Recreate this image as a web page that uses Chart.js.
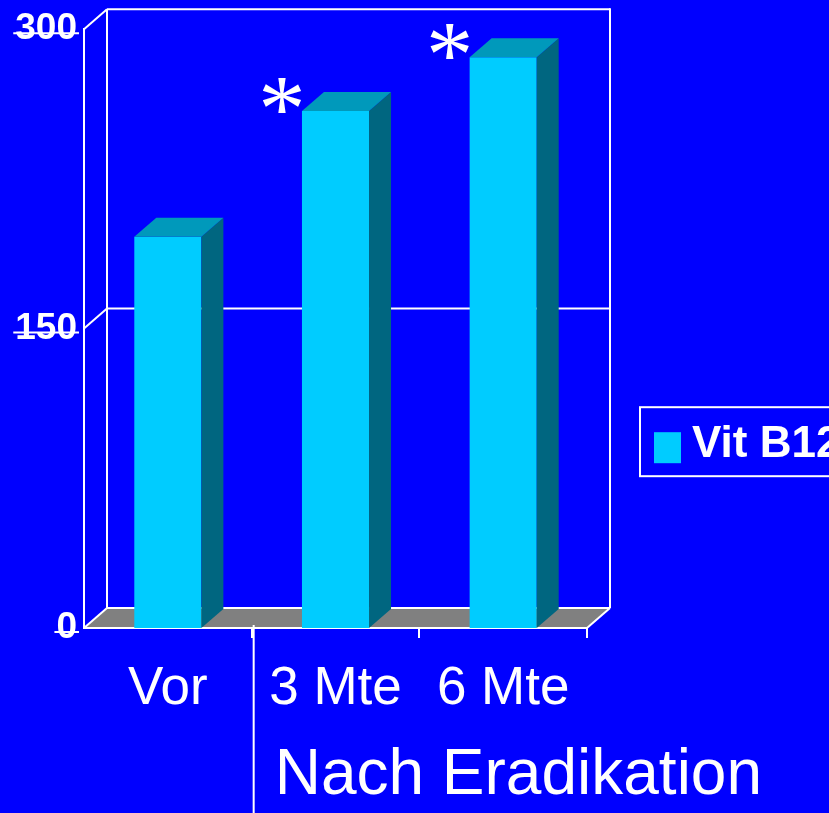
<!DOCTYPE html>
<html><head><meta charset="utf-8">
<script src="https://cdn.jsdelivr.net/npm/chart.js@4"></script>
<style>html,body{margin:0;padding:0;background:#0000ff;overflow:hidden}canvas{display:block}</style>
</head><body>
<canvas id="c" width="829" height="813"></canvas>
<script>
const categories = ["Vor", "3 Mte", "6 Mte"];
const vitB12 = [196, 259, 286];
const significance = ["", "*", "*"];
const yTicks = [0, 150, 300];
const seriesLabel = "Vit B12";
const groupLabel = "Nach Eradikation";

const FONT = "'Liberation Sans', Arial, sans-serif";
const BG = '#0000ff';
const FRONT = '#00ccff', TOP = '#0099bb', SIDE = '#006680', FLOOR = '#808080';
const WALL = {dx: 23, dy: -20};
const DEPTH = {dx: 22, dy: -19};
const YFONT = { family: FONT, size: 37, weight: 'bold' };
const YPAD = 7;

function seg(ctx, x1, y1, x2, y2) { ctx.beginPath(); ctx.moveTo(x1, y1); ctx.lineTo(x2, y2); ctx.stroke(); }
function poly(ctx, pts) { ctx.beginPath(); ctx.moveTo(pts[0][0], pts[0][1]); for (let i = 1; i < pts.length; i++) ctx.lineTo(pts[i][0], pts[i][1]); ctx.closePath(); ctx.fill(); }

const frame3d = {
  id: 'frame3d',
  beforeDraw(chart) {
    const ctx = chart.ctx, a = chart.chartArea, ys = chart.scales.y;
    const dx = WALL.dx, dy = WALL.dy;
    ctx.save();
    ctx.fillStyle = BG; ctx.fillRect(0, 0, chart.width, chart.height);
    const y0 = ys.getPixelForValue(0), yTop = ys.getPixelForValue(yTicks[yTicks.length - 1]);
    ctx.fillStyle = FLOOR;
    poly(ctx, [[a.left, y0], [a.right, y0], [a.right + dx, y0 + dy], [a.left + dx, y0 + dy]]);
    ctx.strokeStyle = '#ffffff'; ctx.lineWidth = 2;
    yTicks.forEach(v => {
      const py = ys.getPixelForValue(v);
      seg(ctx, a.left, py, a.left + dx, py + dy);
      seg(ctx, a.left + dx, py + dy, a.right + dx, py + dy);
    });
    seg(ctx, a.left + dx, yTop + dy, a.left + dx, y0 + dy);
    seg(ctx, a.right + dx, yTop + dy - 1, a.right + dx, y0 + dy);
    seg(ctx, a.right, y0, a.right + dx, y0 + dy);
    ctx.restore();
  },
  afterDatasetsDraw(chart) {
    const ctx = chart.ctx, dx = DEPTH.dx, dy = DEPTH.dy;
    const meta = chart.getDatasetMeta(0);
    ctx.save();
    meta.data.forEach(bar => {
      const p = bar.getProps(['x', 'y', 'base', 'width'], true);
      const l = p.x - p.width / 2, r = p.x + p.width / 2;
      ctx.fillStyle = SIDE;
      poly(ctx, [[r, p.y], [r + dx, p.y + dy], [r + dx, p.base + dy], [r, p.base]]);
      ctx.fillStyle = TOP;
      poly(ctx, [[l, p.y], [l + dx, p.y + dy], [r + dx, p.y + dy], [r, p.y]]);
    });
    ctx.restore();
  },
  afterDraw(chart) {
    const ctx = chart.ctx, a = chart.chartArea, ys = chart.scales.y, xs = chart.scales.x;
    ctx.save();
    ctx.strokeStyle = '#ffffff'; ctx.lineWidth = 2;
    // strike-through tick marks across the value labels
    ctx.font = 'bold ' + YFONT.size + 'px ' + FONT;
    yTicks.forEach(v => {
      const py = ys.getPixelForValue(v) + 4;
      const w = ctx.measureText(String(v)).width;
      const right = a.left - YPAD;
      seg(ctx, right - w - 2, py, a.left - 5, py);
    });
    // separator between "Vor" and the after-eradication group
    const sepX = (xs.getPixelForValue(0) + xs.getPixelForValue(1)) / 2 + 2;
    seg(ctx, sepX, a.bottom - 3, sepX, chart.height);
    // group label
    ctx.fillStyle = '#ffffff';
    ctx.font = '64px ' + FONT;
    ctx.textAlign = 'left'; ctx.textBaseline = 'alphabetic';
    ctx.fillText(groupLabel, sepX + 21, a.bottom + 166);
    // significance asterisks
    const meta = chart.getDatasetMeta(0);
    ctx.font = '100px "Liberation Serif", serif';
    const m = ctx.measureText('*');
    const h100 = m.actualBoundingBoxAscent + m.actualBoundingBoxDescent;
    const fs = 35 * 100 / h100;
    ctx.font = fs + 'px "Liberation Serif", serif';
    const m2 = ctx.measureText('*');
    ctx.textAlign = 'center';
    meta.data.forEach((bar, i) => {
      if (!significance[i]) return;
      const p = bar.getProps(['x', 'y', 'width'], true);
      const cx = p.x - p.width / 2 - 20, cy = p.y - 15;
      const base = cy + (m2.actualBoundingBoxAscent - m2.actualBoundingBoxDescent) / 2;
      ctx.fillText(significance[i], cx, base);
    });
    // legend
    const ds = chart.data.datasets[0];
    const lx = a.right + 53, ly = a.top + 378;
    ctx.strokeStyle = '#ffffff'; ctx.lineWidth = 2;
    ctx.strokeRect(lx, ly, 260, 69);
    ctx.fillStyle = ds.backgroundColor;
    ctx.fillRect(lx + 14, ly + 25, 27, 31);
    ctx.fillStyle = '#ffffff';
    ctx.font = 'bold 44px ' + FONT;
    ctx.textAlign = 'left'; ctx.textBaseline = 'middle';
    ctx.fillText(ds.label, lx + 52, ly + 38);
    ctx.restore();
  }
};

new Chart(document.getElementById('c'), {
  type: 'bar',
  data: {
    labels: categories,
    datasets: [{
      label: seriesLabel,
      data: vitB12,
      backgroundColor: FRONT,
      borderWidth: 0,
      barPercentage: 0.8,
      categoryPercentage: 0.5
    }]
  },
  options: {
    responsive: false,
    animation: false,
    devicePixelRatio: 1,
    layout: { padding: { top: 28, right: 242, left: 0, bottom: 0 } },
    plugins: { legend: { display: false }, tooltip: { enabled: false } },
    scales: {
      x: {
        afterFit: s => { s.height = 185; },
        grid: {
          drawOnChartArea: false, drawTicks: true, tickLength: 10, lineWidth: 2,
          color: c => (c.index === 0 ? 'rgba(0,0,0,0)' : '#ffffff')
        },
        border: { display: true, color: '#ffffff', width: 2 },
        ticks: { color: '#ffffff', font: { family: FONT, size: 53 }, padding: 20, maxRotation: 0, autoSkip: false }
      },
      y: {
        min: 0, max: 300,
        afterFit: s => { s.width = 84; },
        afterBuildTicks: s => { s.ticks = yTicks.map(v => ({ value: v })); },
        grid: { display: false, drawTicks: false },
        border: { display: true, color: '#ffffff', width: 2 },
        ticks: { color: '#ffffff', font: YFONT, padding: YPAD }
      }
    }
  },
  plugins: [frame3d]
});
</script>
</body></html>
